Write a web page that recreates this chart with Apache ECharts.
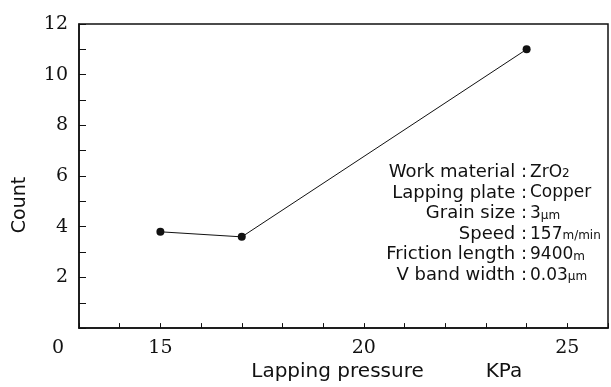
<!DOCTYPE html>
<html>
<head>
<meta charset="utf-8">
<script src="https://cdn.jsdelivr.net/npm/echarts@6/dist/echarts.min.js"></script>
<style>
html,body{margin:0;padding:0;background:#fff;}
#c{width:611px;height:387px;}
</style>
</head>
<body>
<div id="c"></div>
<script>
// Data
var pressure = [15, 17, 24];          // KPa
var count = [3.8, 3.6, 11];
var xLabelValues = [15, 20, 25];
var yLabelValues = [2, 4, 6, 8, 10, 12];
var condLabels = ['Work material :', 'Lapping plate :', 'Grain size :', 'Speed :', 'Friction length :', 'V band width :'];
var condValues = ['ZrO{s|2}', 'Copper', '3{s|μm}', '157{s|m/min}', '9400{s|m}', '0.03{s|μm}'];

var serif = 'DejaVu Serif';
var sans = 'DejaVu Sans';
var ink = '#111';

var chart = echarts.init(document.getElementById('c'), null, {renderer: 'canvas'});
chart.setOption({
  animation: false,
  backgroundColor: '#fff',
  grid: {left: 79, top: 24, right: 2, bottom: 55, show: true, borderColor: ink, borderWidth: 1.5},
  xAxis: {
    type: 'value', min: 13, max: 26, interval: 1,
    axisLine: {show: true, lineStyle: {color: ink, width: 1.5}},
    axisTick: {show: true, inside: true, length: 5, lineStyle: {color: ink, width: 1}},
    splitLine: {show: false},
    axisLabel: {
      margin: 10, color: ink, fontFamily: serif, fontSize: 19, showMinLabel: true,
      formatter: function (v) {
        if (v === 13) return '{z|0}';
        return xLabelValues.indexOf(v) >= 0 ? String(v) : '';
      },
      rich: {z: {fontFamily: serif, fontSize: 19, color: ink, padding: [0, 42, 0, 0]}}
    },
    name: 'Lapping pressure', nameLocation: 'middle', nameGap: 32,
    nameTextStyle: {fontFamily: sans, fontSize: 20, color: ink, padding: [0, 12, 0, 0]}
  },
  yAxis: {
    type: 'value', min: 0, max: 12, interval: 1,
    axisLine: {show: true, lineStyle: {color: ink, width: 1.5}},
    axisTick: {show: true, inside: true, length: 7, lineStyle: {color: ink, width: 1}},
    splitLine: {show: false},
    axisLabel: {
      margin: 11, color: ink, fontFamily: serif, fontSize: 19,
      formatter: function (v) { return yLabelValues.indexOf(v) >= 0 ? String(v) : ''; }
    }
  },
  graphic: [
    {type: 'text', x: 20, y: 205, rotation: Math.PI / 2,
     style: {text: 'Count', font: '19px "DejaVu Sans"', fill: ink, align: 'center', verticalAlign: 'middle'}},
    {type: 'text', x: 504, y: 372,
     style: {text: 'KPa', font: '20px "DejaVu Sans"', fill: ink, align: 'center', verticalAlign: 'middle'}},
    {type: 'text', x: 527, y: 162,
     style: {text: condLabels.join('\n'), font: '18px "DejaVu Sans"', fill: ink, align: 'right', verticalAlign: 'top', lineHeight: 20.6}},
    {type: 'text', x: 530, y: 162,
     style: {text: condValues.join('\n'), fontFamily: sans, fontSize: 17, fill: ink, align: 'left', verticalAlign: 'top', lineHeight: 20.6,
       rich: {s: {fontFamily: sans, fontSize: 12, fill: ink, padding: [4, 0, 0, 0]}}}}
  ],
  series: [{
    type: 'line',
    data: pressure.map(function (p, i) { return [p, count[i]]; }),
    symbol: 'circle', symbolSize: 8,
    itemStyle: {color: ink},
    lineStyle: {color: ink, width: 1}
  }]
});
</script>
</body>
</html>
